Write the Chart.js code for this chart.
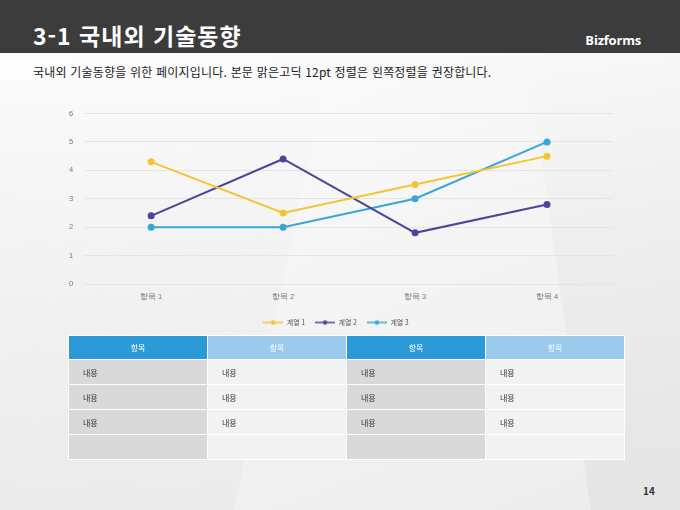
<!DOCTYPE html>
<html lang="ko">
<head>
  <meta charset="UTF-8" />
  <title>3-1 국내외 기술동향</title>
  <script src="https://cdn.jsdelivr.net/npm/chart.js"></script>
  <style>
    html, body { margin: 0; padding: 0; }
    body {
      width: 680px; height: 510px; position: relative; overflow: hidden;
      font-family: "Noto Sans CJK KR", "Noto Sans", sans-serif;
      background: linear-gradient(160deg, #ffffff 0%, #f6f6f6 45%, #ececec 100%);
    }
    .shape1 {
      position: absolute; left: -60px; top: 80px; width: 330px; height: 520px;
      background: linear-gradient(200deg, rgba(235,235,235,0.0), rgba(228,228,228,0.6));
      transform: skewX(-12deg);
    }
    .shape2 {
      position: absolute; right: -40px; top: 60px; width: 160px; height: 460px;
      background: linear-gradient(180deg, rgba(232,232,232,0.0), rgba(225,225,225,0.7));
      transform: skewX(8deg);
    }
    .header {
      position: absolute; left: 0; top: 0; width: 680px; height: 53px;
      background: #3c3c3c;
    }
    .title {
      position: absolute; left: 33px; top: 20px; color: #fff;
      font-size: 23px; font-weight: bold; letter-spacing: 1px; line-height: 30px;
    }
    .brand {
      position: absolute; right: 39px; top: 31px; color: #fff;
      font-family: "Open Sans", sans-serif; font-size: 13px; font-weight: bold;
      letter-spacing: -0.2px;
    }
    .sub {
      position: absolute; left: 33px; top: 63px; font-size: 12px; letter-spacing: 0.2px; color: #222;
    }
    #wrap { position: absolute; left: 57px; top: 97px; width: 562px; height: 239px; }
    table {
      position: absolute; left: 68px; top: 335px; width: 557px;
      border-collapse: collapse; table-layout: fixed; font-size: 8px;
    }
    td, th { border: 1px solid #fff; padding: 0; }
    th { height: 23px; color: #fff; font-weight: normal; text-align: center; }
    th.a { background: #2c9ad7; }
    th.b { background: #9ccaed; }
    td { height: 24px; color: #333; padding-left: 14px; }
    td.a { background: #d9d9d9; }
    td.b { background: #f2f2f2; }
    .page {
      position: absolute; left: 643px; top: 483px; font-size: 10px; font-weight: bold; color: #333;
    }
  </style>
</head>
<body>
  <div class="shape1"></div>
  <div class="shape2"></div>
  <div class="header"></div>
  <div class="title">3-1 국내외 기술동향</div>
  <div class="brand">Bizforms</div>
  <div class="sub">국내외 기술동향을 위한 페이지입니다. 본문 맑은고딕 12pt 정렬은 왼쪽정렬을 권장합니다.</div>

  <div id="wrap"><canvas id="lineChart"></canvas></div>

  <table>
    <tr><th class="a">항목</th><th class="b">항목</th><th class="a">항목</th><th class="b">항목</th></tr>
    <tr><td class="a">내용</td><td class="b">내용</td><td class="a">내용</td><td class="b">내용</td></tr>
    <tr><td class="a">내용</td><td class="b">내용</td><td class="a">내용</td><td class="b">내용</td></tr>
    <tr><td class="a">내용</td><td class="b">내용</td><td class="a">내용</td><td class="b">내용</td></tr>
    <tr><td class="a"></td><td class="b"></td><td class="a"></td><td class="b"></td></tr>
  </table>

  <div class="page">14</div>

  <script>
    const categories = ['항목 1', '항목 2', '항목 3', '항목 4'];
    const seriesNames = ['계열 1', '계열 2', '계열 3'];
    const series1 = [4.3, 2.5, 3.5, 4.5];
    const series2 = [2.4, 4.4, 1.8, 2.8];
    const series3 = [2, 2, 3, 5];
    const yTicks = [0, 1, 2, 3, 4, 5, 6];
    const colors = ['#f5c431', '#4e4597', '#3ba6d6'];

    // legend marker: short line with a dot in the middle
    function legendMarker(color) {
      const c = document.createElement('canvas');
      c.width = 20; c.height = 6;
      const g = c.getContext('2d');
      g.strokeStyle = color; g.lineWidth = 1.5;
      g.beginPath(); g.moveTo(0, 3); g.lineTo(20, 3); g.stroke();
      g.fillStyle = color;
      g.beginPath(); g.arc(10, 3, 2.2, 0, Math.PI * 2); g.fill();
      return c;
    }

    const data = [series1, series2, series3];
    const ctx = document.getElementById('lineChart').getContext('2d');
    new Chart(ctx, {
      type: 'line',
      data: {
        labels: categories,
        datasets: data.map((d, i) => ({
          label: seriesNames[i],
          data: d,
          borderColor: colors[i],
          backgroundColor: colors[i],
          borderWidth: 2,
          pointRadius: 2.5,
          pointStyle: 'circle',
          tension: 0
        }))
      },
      options: {
        responsive: true,
        maintainAspectRatio: false,
        animation: false,
        layout: { padding: { top: 3, right: 4, left: 0, bottom: 0 } },
        plugins: {
          tooltip: { enabled: false },
          legend: {
            position: 'bottom',
            labels: {
              usePointStyle: true,
              pointStyleWidth: 20,
              boxHeight: 6,
              font: { size: 7, family: '"Noto Sans CJK KR", sans-serif' },
              color: '#555',
              padding: 10,
              generateLabels: chart => chart.data.datasets.map((ds, i) => ({
                text: ds.label,
                pointStyle: legendMarker(colors[i]),
                fillStyle: colors[i],
                strokeStyle: colors[i],
                lineWidth: 0,
                datasetIndex: i,
                fontColor: '#555'
              }))
            }
          }
        },
        scales: {
          x: {
            offset: true,
            grid: { display: false, drawTicks: false },
            border: { display: false },
            ticks: { color: '#777', font: { size: 7.5 }, padding: 8 }
          },
          y: {
            min: 0, max: 6,
            afterBuildTicks: axis => { axis.ticks = yTicks.map(v => ({ value: v })); },
            grid: { color: '#e4e4e4', drawTicks: false },
            border: { display: false },
            ticks: { color: '#777', font: { size: 7.5 }, padding: 12 }
          }
        }
      }
    });
  </script>
</body>
</html>
